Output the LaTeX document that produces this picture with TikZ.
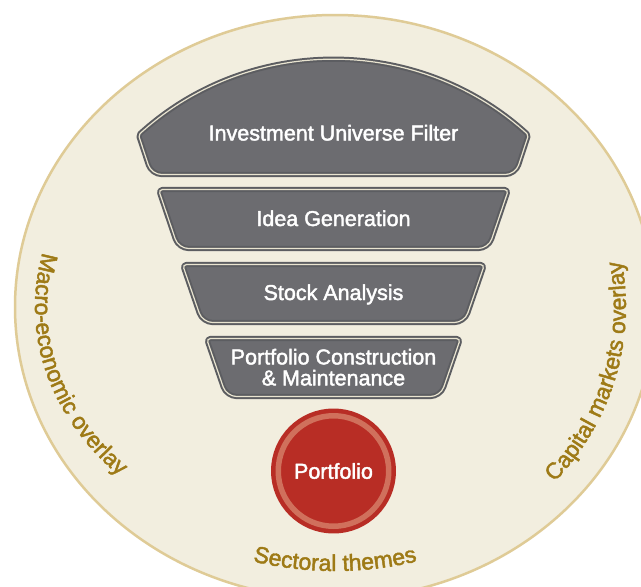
\documentclass[tikz,border=0pt]{standalone}
\usepackage{fontspec}
\setmainfont{Liberation Sans}
\newfontfamily\mediumfamily[FakeBold=2]{Liberation Sans}
\usetikzlibrary{decorations.text}
\definecolor{rimtan}{RGB}{223,203,150}
\definecolor{ringbeige}{RGB}{242,238,223}
\definecolor{funnelgray}{RGB}{108,108,112}
\definecolor{funneledge}{RGB}{92,93,97}
\definecolor{creamline}{RGB}{233,228,208}
\definecolor{portred}{RGB}{184,45,37}
\definecolor{ringred}{RGB}{208,112,92}
\definecolor{labelgold}{RGB}{158,122,22}
\newcommand\blockfont{\mediumfamily\fontsize{21.5}{21}\selectfont}
\newcommand\labelfont{\mediumfamily\fontsize{23}{26}\selectfont}
\begin{document}
\begin{tikzpicture}[x=1pt,y=1pt,line join=round,
    block/.style={fill=funnelgray,draw=funneledge,double=creamline,double distance=1.2pt,line width=2pt},
    blocktext/.style={text=white,font=\blockfont,inner sep=0pt,anchor=base},
    arclabel/.style={decorate,decoration={text along path,text color=labelgold,text={|\labelfont|#1}}}]
    \useasboundingbox (0,0) rectangle (641,-587);
    \fill[white] (0,0) rectangle (641,-587);
    \clip (0,0) rectangle (641,-587);
    \coordinate (ctr) at (335,-307);
    % outer disc
    \draw[draw=rimtan,fill=ringbeige,line width=2.5pt] (ctr) ellipse[x radius=320,y radius=292];
    % funnel
    \draw[block] (333.5,-174.5) [rounded corners=10] -- (151.5,-174.5) [rounded corners=2] -- (138.5,-135)
        arc[start angle=132.34,end angle=47.66,radius=289.5] [rounded corners=10] -- (515.5,-174.5) -- cycle;
    \draw[block] (333.5,-189.5) [rounded corners=4] -- (508.5,-189.5) [rounded corners=10] -- (488.5,-248.5)
        -- (178.5,-248.5) [rounded corners=4] -- (158.5,-189.5) -- cycle;
    \draw[block] (333.5,-264.5) [rounded corners=4] -- (484.5,-264.5) [rounded corners=10] -- (464.5,-322.5)
        -- (202.5,-322.5) [rounded corners=4] -- (182.5,-264.5) -- cycle;
    \draw[block] (333.5,-338.5) [rounded corners=4] -- (460.5,-338.5) [rounded corners=10] -- (440.5,-396.5)
        -- (226.5,-396.5) [rounded corners=4] -- (206.5,-338.5) -- cycle;
    \node[blocktext] (filter) at (333.5,-140.5) {Investment Universe Filter};
    \node[blocktext] (idea) at (333.5,-226) {Idea Generation};
    \node[blocktext] (stock) at (333.5,-300) {Stock Analysis};
    \node[blocktext,align=center,anchor=north] (build) at (333.5,-348.6) {Portfolio Construction\\ \& Maintenance};
    \node[circle,minimum size=110.5pt,inner sep=0pt,fill=portred,draw=portred,double=ringred,
        double distance=5.5pt,line width=4.5pt,text=white,font=\blockfont] (port) at (333.5,-471) {Portfolio};
    % curved labels
    \path[arclabel=Macro-economic overlay] (ctr) ++(167:300 and 243) arc[start angle=167,end angle=250,x radius=300,y radius=243];
    \path[arclabel=Capital markets overlay] (ctr) ++(-41:291 and 267) arc[start angle=-41,end angle=40,x radius=291,y radius=267];
    \path[arclabel=Sectoral themes,decoration={text align=center}] (ctr) ++(245:306 and 264) arc[start angle=245,end angle=295,x radius=306,y radius=264];
\end{tikzpicture}
\end{document}
